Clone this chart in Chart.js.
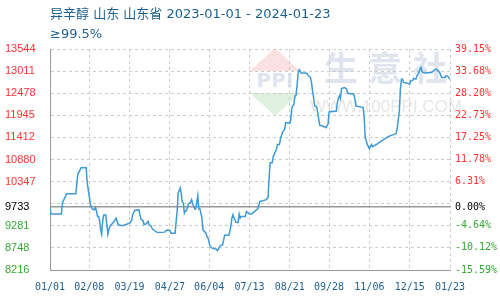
<!DOCTYPE html>
<html>
<head>
<meta charset="utf-8">
<script src="https://cdn.jsdelivr.net/npm/chart.js@4.4.1/dist/chart.umd.min.js"></script>
<style>
  body { margin: 0; background: #fff; }
</style>
</head>
<body>
<canvas id="priceChart" width="500" height="300"></canvas>
<script>
// chart text and axis data
const titleLines = ['异辛醇 山东 山东省 2023-01-01 - 2024-01-23', '≥99.5%'];
const basePrice = 9733;
const yMin = 8216;
const yMax = 13544;
const yTicks = [8216, 8748.8, 9281.6, 9733, 9814.4, 10347.2, 10880, 11412.8, 11945.6, 12478.4, 13011.2, 13544];
const leftLabels = ['8216', '8748', '9281', '9733', '', '10347', '10880', '11412', '11945', '12478', '13011', '13544'];
const rightLabels = ['-15.59%', '-10.12%', '-4.64%', '0.00%', '', '6.31%', '11.78%', '17.25%', '22.73%', '28.20%', '33.68%', '39.15%'];
const tickDays = [0, 38, 77, 116, 154, 193, 232, 270, 309, 348, 387];
const tickLabels = ['01/01', '02/08', '03/19', '04/27', '06/04', '07/13', '08/21', '09/28', '11/06', '12/15', '01/23'];

// days since 2023-01-01 and price (yuan/ton)
const days = [
    0, 1, 11, 12, 13, 15, 16, 25, 26, 27,
    28, 30, 35, 36, 37, 38, 39, 40, 41, 43,
    44, 45, 46, 47, 48, 49, 50, 51, 52, 54,
    55, 56, 57, 58, 60, 62, 64, 66, 70, 73,
    77, 79, 80, 82, 86, 87, 88, 90, 91, 93,
    95, 96, 98, 99, 101, 104, 111, 112, 114, 116,
    117, 121, 123, 124, 125, 126, 127, 128, 129, 130,
    131, 132, 134, 136, 137, 138, 140, 141, 143, 144,
    145, 146, 147, 148, 151, 152, 153, 154, 155, 157,
    161, 162, 163, 164, 166, 167, 168, 169, 173, 174,
    175, 176, 177, 178, 179, 180, 182, 183, 184, 185,
    189, 190, 191, 193, 195, 198, 201, 203, 206, 209,
    211, 212, 213, 215, 216, 219, 220, 222, 223, 225,
    227, 228, 232, 233, 234, 236, 237, 238, 239, 240,
    241, 242, 243, 248, 249, 250, 252, 253, 254, 255,
    256, 258, 259, 260, 261, 264, 267, 269, 270, 277,
    278, 279, 280, 281, 282, 285, 287, 288, 294, 295,
    296, 303, 304, 305, 306, 307, 309, 311, 312, 316,
    319, 322, 327, 330, 333, 335, 336, 338, 339, 340,
    341, 342, 346, 348, 349, 351, 352, 354, 355, 357,
    358, 359, 360, 362, 369, 370, 372, 374, 377, 378,
    379, 382, 383, 385, 387
];
const prices = [
    9733, 9565, 9565, 9831, 9887, 9991, 10057, 10057, 10316, 10534,
    10572, 10679, 10679, 10316, 10153, 9991, 9807, 9734, 9686, 9669,
    9725, 9628, 9507, 9507, 9410, 9185, 9081, 9403, 9541, 9541,
    9306, 9081, 9202, 9265, 9330, 9386, 9468, 9306, 9282, 9306,
    9347, 9410, 9548, 9652, 9669, 9548, 9444, 9403, 9306, 9330,
    9386, 9306, 9265, 9209, 9168, 9119, 9129, 9160, 9185, 9168,
    9105, 9105, 9628, 10074, 10129, 10195, 10049, 9856, 9831, 9589,
    9645, 9645, 9807, 9856, 9911, 9814, 9686, 9686, 10008, 9686,
    9686, 9589, 9468, 9185, 9105, 9008, 8984, 8877, 8780, 8742,
    8717, 8683, 8717, 8780, 8821, 8821, 8943, 9056, 9056, 9144,
    9282, 9468, 9548, 9468, 9427, 9362, 9362, 9565, 9468, 9507,
    9507, 9628, 9604, 9565, 9565, 9628, 9693, 9870, 9887, 9911,
    9967, 10444, 10800, 10800, 10960, 11122, 11243, 11243, 11381, 11541,
    11607, 11769, 11752, 11849, 12132, 12212, 12413, 12430, 12655, 12939,
    13043, 13019, 12963, 12963, 12939, 12897, 12859, 12738, 12534, 12374,
    12171, 12156, 12011, 11849, 11703, 11687, 11648, 11728, 12025, 12050,
    12253, 12350, 12413, 12350, 12592, 12616, 12575, 12478, 12454, 12333,
    12171, 12132, 11890, 11406, 11323, 11243, 11139, 11243, 11188, 11243,
    11299, 11347, 11430, 11461, 11485, 11510, 11648, 12050, 12575, 12817,
    12817, 12738, 12721, 12696, 12776, 12793, 12834, 12817, 12897, 12980,
    13060, 13101, 12994, 12963, 12980, 12994, 13043, 13060, 12980, 12914,
    12859, 12859, 12897, 12883, 12817
];

const upColor = '#ff3333';
const downColor = '#33aa33';
const textBlue = '#1d5f8e';

function tickColor(ctx) {
    const v = ctx.tick ? ctx.tick.value : basePrice;
    if (v > basePrice) return upColor;
    if (v < basePrice) return downColor;
    return '#000';
}

// title and the faint watermark behind the plot
const decorPlugin = {
    id: 'decor',
    beforeDraw(chart) {
        const ctx = chart.ctx;
        ctx.save();
        ctx.fillStyle = '#fbe1e1';
        ctx.beginPath();
        ctx.moveTo(275, 48); ctx.lineTo(300, 71); ctx.lineTo(250, 71);
        ctx.closePath(); ctx.fill();
        ctx.fillStyle = '#dff0df';
        ctx.beginPath();
        ctx.moveTo(250, 93); ctx.lineTo(300, 93); ctx.lineTo(275, 116);
        ctx.closePath(); ctx.fill();
        ctx.fillStyle = '#dfe4ee';
        ctx.textAlign = 'center';
        ctx.textBaseline = 'middle';
        ctx.font = 'bold 20px "DejaVu Sans"';
        ctx.fillText('PPI', 275, 82);
        ctx.font = 'bold 34px "Noto Sans CJK SC"';
        ctx.fillText('生', 341, 68);
        ctx.fillText('意', 385, 68);
        ctx.fillText('社', 430, 68);
        ctx.fillStyle = '#e6e6e6';
        ctx.font = '17px "Liberation Sans"';
        ctx.fillText('WWW.100PPI.COM', 386, 107);

        ctx.fillStyle = textBlue;
        ctx.textAlign = 'left';
        ctx.font = '13px "DejaVu Sans", "Noto Sans CJK SC"';
        ctx.fillText(titleLines[0], 50, 15);
        ctx.fillText(titleLines[1], 50, 35);
        ctx.restore();
    }
};

const points = days.map((d, i) => ({ x: d, y: prices[i] }));

new Chart(document.getElementById('priceChart'), {
    type: 'line',
    data: {
        datasets: [{
            data: points,
            borderColor: '#3d9ad6',
            borderWidth: 1.5,
            pointRadius: 0,
            tension: 0
        }]
    },
    options: {
        responsive: false,
        animation: false,
        layout: { padding: { left: 5, top: 49, right: 0, bottom: 0 } },
        plugins: {
            legend: { display: false },
            tooltip: { enabled: false }
        },
        scales: {
            x: {
                type: 'linear',
                min: 0,
                max: 387,
                afterBuildTicks: scale => { scale.ticks = tickDays.map(v => ({ value: v })); },
                afterFit: scale => { scale.height = 30; },
                ticks: {
                    autoSkip: false,
                    maxRotation: 0,
                    padding: 11,
                    color: textBlue,
                    font: { family: 'DejaVu Sans Mono', size: 10 },
                    callback: (v, i) => tickLabels[i]
                },
                grid: { color: '#cccccc', drawTicks: false },
                border: { color: '#999999', dash: [3, 3] }
            },
            y: {
                position: 'left',
                min: yMin,
                max: yMax,
                afterBuildTicks: scale => { scale.ticks = yTicks.map(v => ({ value: v })); },
                afterFit: scale => { scale.width = 45; },
                ticks: {
                    autoSkip: false,
                    crossAlign: 'far',
                    color: tickColor,
                    font: { family: 'Liberation Sans', size: 11 },
                    callback: (v, i) => leftLabels[i]
                },
                grid: {
                    drawTicks: false,
                    color: ctx => (ctx.tick && ctx.tick.value === basePrice) ? '#999999' : '#cccccc',
                    lineWidth: ctx => (ctx.tick && ctx.tick.value === basePrice) ? 1.5 : 1
                },
                border: {
                    color: '#999999',
                    dash: ctx => (ctx.tick && ctx.tick.value === basePrice) ? [] : [3, 3]
                }
            },
            y1: {
                position: 'right',
                min: yMin,
                max: yMax,
                afterBuildTicks: scale => { scale.ticks = yTicks.map(v => ({ value: v })); },
                afterFit: scale => { scale.width = 50; },
                ticks: {
                    autoSkip: false,
                    padding: 5,
                    color: tickColor,
                    font: { family: 'DejaVu Sans Mono', size: 10 },
                    callback: (v, i) => rightLabels[i]
                },
                grid: { drawOnChartArea: false, drawTicks: false },
                border: { display: false }
            }
        }
    },
    plugins: [decorPlugin]
});
</script>
</body>
</html>
